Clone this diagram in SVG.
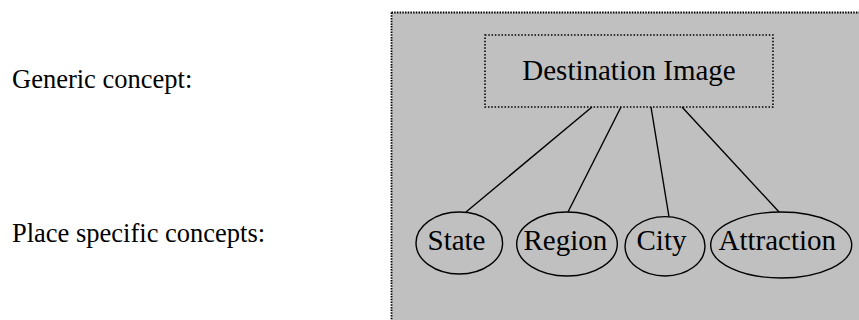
<svg xmlns="http://www.w3.org/2000/svg" width="859" height="320" viewBox="0 0 859 320">
<style>
text{font-family:"Liberation Serif","Times New Roman",serif;fill:#000}
.lbl{font-size:26.5px}
.big{font-size:29px}
.node ellipse{fill:#c0c0c0;stroke:#000;stroke-width:1.4}
.conn line{stroke:#000;stroke-width:1.4}
</style>
<rect x="0" y="0" width="859" height="320" fill="#fff"/>
<text class="lbl" x="12" y="88">Generic concept:</text>
<text class="lbl" x="12" y="242">Place specific concepts:</text>
<g id="frame">
<rect x="391.5" y="12.5" width="480" height="320" fill="#c0c0c0" stroke="#000" stroke-width="1.8" stroke-dasharray="1.5 1.2"/>
</g>
<g id="destination-image" class="node">
<rect x="485" y="35" width="288" height="72" fill="#c0c0c0" stroke="#000" stroke-width="1.6" stroke-dasharray="1.5 1.8"/>
<text class="big" x="629" y="80" text-anchor="middle">Destination Image</text>
</g>
<g id="connectors" class="conn">
<line x1="592" y1="107" x2="466" y2="212"/>
<line x1="621" y1="107" x2="568" y2="212"/>
<line x1="651" y1="107" x2="669" y2="217"/>
<line x1="682" y1="107" x2="780" y2="213"/>
</g>
<g id="state" class="node">
<ellipse cx="459.3" cy="243" rx="43.3" ry="31"/>
<text class="big" x="427.5" y="250">State</text>
</g>
<g id="region" class="node">
<ellipse cx="567" cy="244" rx="50.3" ry="32"/>
<text class="big" x="523.5" y="250">Region</text>
</g>
<g id="city" class="node">
<ellipse cx="665" cy="246.3" rx="40" ry="29.7"/>
<text class="big" x="636.5" y="250">City</text>
</g>
<g id="attraction" class="node">
<ellipse cx="781.2" cy="245" rx="70.5" ry="33"/>
<text class="big" x="718.5" y="250">Attraction</text>
</g>
</svg>
